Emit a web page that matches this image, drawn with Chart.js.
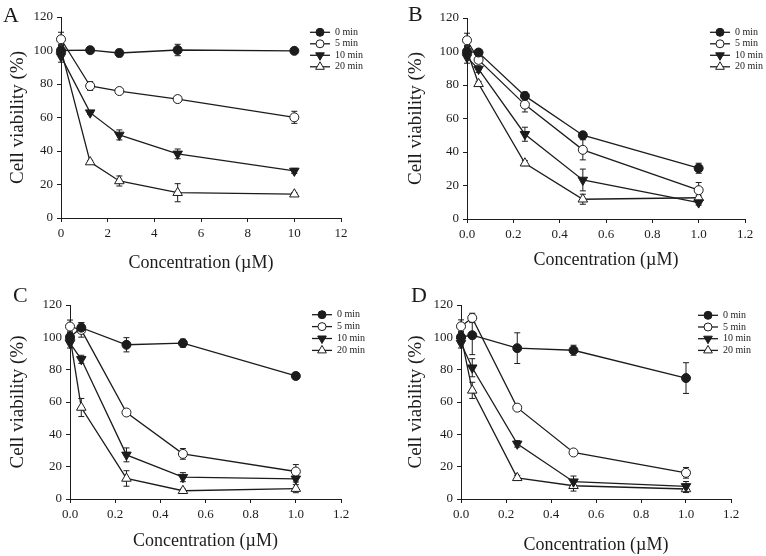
<!DOCTYPE html>
<html lang="en">
<head>
<meta charset="UTF-8">
<title>Cell viability vs concentration</title>
<script src="https://cdn.jsdelivr.net/npm/chart.js"></script>
<style>
  html, body { margin: 0; padding: 0; background: #fff; }
  #fig { position: relative; width: 766px; height: 556px; }
  .panel { position: absolute; width: 383px; height: 278px; }
  .letter { position: absolute; font: 22px/1 "Liberation Serif", "Times New Roman", serif; color: #1a1a1a; }
</style>
</head>
<body>
<div id="fig">
  <div class="panel" style="left:0;top:0"><canvas id="chartA" width="383" height="278"></canvas></div>
  <div class="panel" style="left:383px;top:0"><canvas id="chartB" width="383" height="278"></canvas></div>
  <div class="panel" style="left:0;top:278px"><canvas id="chartC" width="383" height="278"></canvas></div>
  <div class="panel" style="left:383px;top:278px"><canvas id="chartD" width="383" height="278"></canvas></div>
  <div class="letter" style="left:3px;top:4px">A</div>
  <div class="letter" style="left:408px;top:3px">B</div>
  <div class="letter" style="left:13px;top:284px">C</div>
  <div class="letter" style="left:411px;top:284px">D</div>
</div>

<script>
// --- data ---
const seriesNames = ['0 min', '5 min', '10 min', '20 min'];
const concA = [0, 1.25, 2.5, 5, 10];
const concBCD = [0, 0.05, 0.25, 0.5, 1.0];
const yTicks = [0, 20, 40, 60, 80, 100, 120];

// mean viability (%) per series, then SD
const meanA = [
  [100, 100.2, 98.5, 100.3, 99.8],
  [106.7, 78.8, 75.8, 71, 60.1],
  [96.5, 62.9, 49.6, 38.3, 28.1],
  [100.5, 33.4, 22.1, 15.1, 14.2]
];
const errA = [
  [3, 1.8, 2.2, 3.4, 1],
  [4.2, 2.6, 1.6, 2, 3.6],
  [3.5, 1, 3, 2.9, 1.5],
  [3, 1, 3, 5.4, 1]
];
const meanB = [
  [100, 99.4, 73.5, 50, 30.3],
  [106.7, 95, 68.3, 41.3, 17.2],
  [96.5, 89.5, 50.6, 23.3, 9.8],
  [100.5, 80.7, 33.3, 11.8, 12.7]
];
const errB = [
  [3, 1.5, 2.2, 1.5, 3],
  [4.2, 2, 4.4, 6, 4.6],
  [3.5, 2, 4.2, 6.5, 1.5],
  [3, 1.5, 1.5, 3, 1.5]
];
const meanC = [
  [100.2, 106, 95.4, 96.4, 76.1],
  [106.7, 104.6, 53.5, 27.9, 17],
  [96.4, 86.4, 27.3, 13.5, 12.5],
  [100.3, 56.6, 12.7, 5.1, 6.4]
];
const errC = [
  [3, 3, 4.4, 2.5, 2],
  [4, 4.5, 1, 3.3, 4.3],
  [3, 2.5, 4.3, 2.8, 2],
  [3, 5.6, 4.8, 1, 2.5]
];
const meanD = [
  [100.2, 101.3, 93.3, 92, 74.8],
  [106.8, 112, 56.5, 28.8, 16.2],
  [96.4, 81.2, 34.1, 10.7, 7.8],
  [100.7, 67.2, 13.1, 8.2, 6.2]
];
const errD = [
  [3, 12, 9.5, 3.1, 9.5],
  [4, 2.9, 1, 1.5, 3.3],
  [3, 5.6, 2, 3.5, 3],
  [3, 5, 1.5, 3.3, 2.2]
];

const INK = '#1c1c1c';
const SERIF = '"Liberation Serif", "Times New Roman", serif';
const W = 383, H = 278;

const markerStyles = [
  { pointStyle: 'circle',   rotation: 0,   radius: 4.5, fill: INK },
  { pointStyle: 'circle',   rotation: 0,   radius: 4.5, fill: '#fff' },
  { pointStyle: 'triangle', rotation: 180, radius: 5.5, fill: INK },
  { pointStyle: 'triangle', rotation: 0,   radius: 5.5, fill: '#fff' }
];

// error bars drawn under the markers, placed through the chart scales
const errorBars = {
  id: 'errorBars',
  beforeDatasetsDraw(chart) {
    const ctx = chart.ctx, xs = chart.scales.x, ys = chart.scales.y;
    ctx.save();
    ctx.strokeStyle = INK;
    ctx.lineWidth = 1;
    chart.data.datasets.forEach(ds => {
      ds.data.forEach(p => {
        if (!p.e) return;
        const px = xs.getPixelForValue(p.x);
        const top = ys.getPixelForValue(p.y + p.e);
        const bot = ys.getPixelForValue(p.y - p.e);
        ctx.beginPath();
        ctx.moveTo(px, top); ctx.lineTo(px, bot);
        ctx.moveTo(px - 3, top); ctx.lineTo(px + 3, top);
        ctx.moveTo(px - 3, bot); ctx.lineTo(px + 3, bot);
        ctx.stroke();
      });
    });
    ctx.restore();
  }
};

// legend inside the plot, line + marker + label
const insetLegend = {
  id: 'insetLegend',
  afterDraw(chart, args, opts) {
    const ctx = chart.ctx;
    ctx.save();
    ctx.font = '10px ' + SERIF;
    ctx.textBaseline = 'middle';
    chart.data.datasets.forEach((ds, i) => {
      const y = opts.y + i * opts.step;
      ctx.strokeStyle = INK;
      ctx.lineWidth = 1.3;
      ctx.beginPath();
      ctx.moveTo(opts.x, y); ctx.lineTo(opts.x + 20, y);
      ctx.stroke();
      const m = markerStyles[i];
      ctx.fillStyle = m.fill;
      ctx.lineWidth = 1;
      Chart.helpers.drawPoint(ctx, { pointStyle: m.pointStyle, rotation: m.rotation, radius: m.radius - 0.5, borderWidth: 1 }, opts.x + 10, y);
      ctx.fillStyle = INK;
      ctx.fillText(ds.label, opts.x + 25, y);
    });
    ctx.restore();
  }
};

function makePanel(id, conc, mean, err, cfg) {
  const datasets = seriesNames.map((name, i) => ({
    label: name,
    data: conc.map((c, j) => ({ x: c, y: mean[i][j], e: err[i][j] })),
    borderColor: INK,
    borderWidth: 1.3,
    pointStyle: markerStyles[i].pointStyle,
    pointRotation: markerStyles[i].rotation,
    pointRadius: markerStyles[i].radius,
    pointBackgroundColor: markerStyles[i].fill,
    pointBorderColor: INK,
    pointBorderWidth: 1,
    tension: 0,
    clip: false
  }));

  new Chart(document.getElementById(id), {
    type: 'line',
    data: { datasets: datasets },
    options: {
      responsive: false,
      animation: false,
      events: [],
      layout: { padding: { left: 0, top: cfg.top, right: W - cfg.right, bottom: 0 } },
      plugins: {
        legend: { display: false },
        tooltip: { enabled: false },
        insetLegend: cfg.legend
      },
      scales: {
        x: {
          type: 'linear',
          min: 0,
          max: cfg.xMax,
          afterFit: s => { s.height = H - cfg.bottom; },
          ticks: {
            stepSize: cfg.xStep,
            autoSkip: false,
            maxRotation: 0,
            padding: 4,
            color: INK,
            font: { family: SERIF, size: 13 },
            callback: v => cfg.xStep < 1 ? v.toFixed(1) : String(v)
          },
          grid: { drawOnChartArea: false, drawTicks: true, tickLength: 4, color: INK },
          border: { display: true, color: INK, width: 1 },
          title: {
            display: true,
            text: 'Concentration (\u00b5M)',
            color: INK,
            font: { family: SERIF, size: 18 },
            padding: { top: 0, bottom: cfg.xTitlePad }
          }
        },
        y: {
          min: 0,
          max: 120,
          afterFit: s => { s.width = cfg.left; },
          afterBuildTicks: s => { s.ticks = yTicks.map(v => ({ value: v })); },
          ticks: {
            padding: 4,
            color: INK,
            font: { family: SERIF, size: 13 }
          },
          grid: { drawOnChartArea: false, drawTicks: true, tickLength: 4, color: INK },
          border: { display: true, color: INK, width: 1 },
          title: {
            display: true,
            text: 'Cell viability (%)',
            color: INK,
            font: { family: SERIF, size: 19 },
            padding: { top: cfg.yTitlePad, bottom: 0 }
          }
        }
      }
    },
    plugins: [errorBars, insetLegend]
  });
}

makePanel('chartA', concA, meanA, errA, {
  left: 61, right: 341, top: 17, bottom: 218, xMax: 12, xStep: 2,
  xTitlePad: 4, yTitlePad: 7, legend: { x: 310, y: 32.3, step: 11.5 }
});
makePanel('chartB', concBCD, meanB, errB, {
  left: 84, right: 362, top: 18, bottom: 219, xMax: 1.2, xStep: 0.2,
  xTitlePad: 7, yTitlePad: 22, legend: { x: 327, y: 32.3, step: 11.5 }
});
makePanel('chartC', concBCD, meanC, errC, {
  left: 70, right: 341, top: 27, bottom: 221, xMax: 1.2, xStep: 0.2,
  xTitlePad: 4, yTitlePad: 7, legend: { x: 312, y: 36.7, step: 11.9 }
});
makePanel('chartD', concBCD, meanD, errD, {
  left: 78, right: 348, top: 27, bottom: 221, xMax: 1.2, xStep: 0.2,
  xTitlePad: 0, yTitlePad: 22, legend: { x: 315, y: 37.3, step: 11.7 }
});
</script>
</body>
</html>
